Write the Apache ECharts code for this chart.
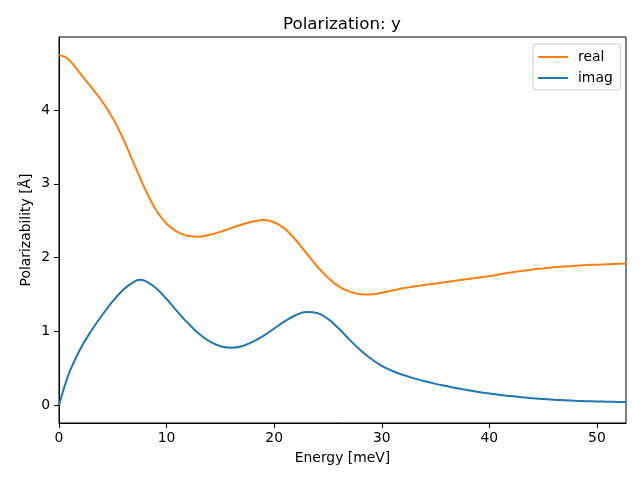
<!DOCTYPE html>
<html>
<head>
<meta charset="utf-8">
<script src="https://cdn.jsdelivr.net/npm/echarts@6/dist/echarts.min.js"></script>
<style>html,body{margin:0;padding:0;background:#fff}#c{width:640px;height:480px}</style>
</head>
<body>
<div id="c"></div>
<script>
const energy = [0,0.5,1,2,3,4,5,6,7,7.5,8,9,10,11,12,13,14,15,16,17,18,19,20,21,22,23,24,25,26,27,28,29,30,31,32,33,34,35,36,37,38,39,40,41,42,43,44,45,46,47,48,49,50,51,52,52.7];
const realVals = [4.74,4.725,4.67,4.49,4.31,4.12,3.89,3.60,3.26,3.095,2.93,2.65,2.46,2.35,2.295,2.285,2.31,2.35,2.40,2.45,2.49,2.51,2.48,2.39,2.24,2.06,1.88,1.73,1.61,1.54,1.505,1.50,1.525,1.555,1.585,1.61,1.63,1.65,1.67,1.69,1.71,1.73,1.75,1.775,1.80,1.82,1.84,1.855,1.87,1.88,1.89,1.90,1.905,1.912,1.918,1.922];
const imagVals = [0.0,0.25,0.46,0.77,1.01,1.22,1.41,1.57,1.675,1.70,1.685,1.59,1.44,1.27,1.11,0.97,0.865,0.80,0.78,0.80,0.86,0.94,1.04,1.14,1.22,1.265,1.25,1.17,1.04,0.89,0.75,0.63,0.535,0.465,0.41,0.365,0.325,0.29,0.26,0.23,0.205,0.18,0.16,0.14,0.125,0.11,0.095,0.085,0.075,0.068,0.061,0.056,0.052,0.048,0.045,0.044];
const xTicks = [0,10,20,30,40,50];
const yTicks = [0,1,2,3,4];
const titleText = 'Polarization: y';
const xName = 'Energy [meV]';
const yName = 'Polarizability [Å]';
const seriesNames = ['real','imag'];

const font = 'DejaVu Sans';
const chart = echarts.init(document.getElementById('c'), null, {renderer:'canvas'});
const pair = (xs, ys) => xs.map((x,i)=>[x, ys[i]]);
chart.setOption({
  animation:false,
  backgroundColor:'#fff',
  title:{text:titleText, left:278, top:11,
    textStyle:{fontFamily:font, fontSize:16.7, fontWeight:'normal', color:'#000'}},
  grid:{left:59, right:14, top:37, bottom:57, show:true, borderColor:'#000', borderWidth:1, containLabel:false},
  legend:{orient:'vertical', left:533, top:44, padding:[6,8,5,5], itemGap:7,
    itemWidth:30, itemHeight:2, icon:'rect',
    borderColor:'#cccccc', borderWidth:1, borderRadius:3, backgroundColor:'rgba(255,255,255,0.8)',
    textStyle:{fontFamily:font, fontSize:13.9, color:'#000', padding:[0,0,0,5]},
    data:seriesNames},
  xAxis:{type:'value', min:0, max:52.7, name:xName, nameLocation:'middle', nameGap:28, nameMoveOverlap:false,
    nameTextStyle:{fontFamily:font, fontSize:13.9, color:'#000'},
    axisLine:{show:true, onZero:false, lineStyle:{color:'#000', width:1}},
    axisTick:{show:true, inside:false, length:5, customValues:xTicks, lineStyle:{color:'#000'}},
    axisLabel:{fontFamily:font, fontSize:13.9, color:'#000', margin:8, customValues:xTicks},
    splitLine:{show:false}},
  yAxis:{type:'value', min:-0.24, max:4.99, name:yName, nameLocation:'middle', nameGap:26, nameMoveOverlap:false,
    nameTextStyle:{fontFamily:font, fontSize:13.9, color:'#000'},
    axisLine:{show:true, onZero:false, lineStyle:{color:'#000', width:1}},
    axisTick:{show:true, inside:false, length:5, customValues:yTicks, lineStyle:{color:'#000'}},
    axisLabel:{fontFamily:font, fontSize:13.9, color:'#000', margin:9, customValues:yTicks},
    splitLine:{show:false}},
  series:[
    {name:seriesNames[0], type:'line', data:pair(energy, realVals), smooth:0.4, showSymbol:false, symbol:'none',
      color:'#ff7f0e', lineStyle:{color:'#ff7f0e', width:2}},
    {name:seriesNames[1], type:'line', data:pair(energy, imagVals), smooth:0.4, showSymbol:false, symbol:'none',
      color:'#1f77b4', lineStyle:{color:'#1f77b4', width:2}}
  ]
});
</script>
</body>
</html>
